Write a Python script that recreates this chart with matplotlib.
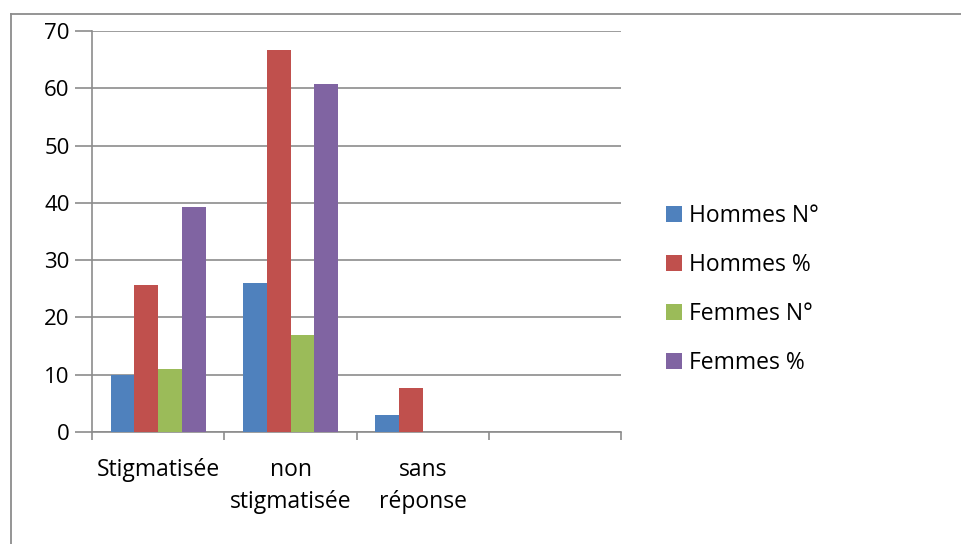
import matplotlib.pyplot as plt
import numpy as np
from matplotlib.lines import Line2D

categories = ['Stigmatisée', 'non\nstigmatisée', 'sans\nréponse', '']
series_names = ['Hommes N°', 'Hommes %', 'Femmes N°', 'Femmes %']
hommes_n = [10, 26, 3, 0]
hommes_pct = [25.6, 66.7, 7.7, 0]
femmes_n = [11, 17, 0, 0]
femmes_pct = [39.3, 60.7, 0, 0]
colors = ['#4F81BD', '#C0504D', '#9BBB59', '#8064A2']

plt.rcParams['font.family'] = ['Open Sans', 'DejaVu Sans']

fig = plt.figure(figsize=(9.61, 5.44), dpi=100)
# outer chart border (only left and top edges are inside the image)
fig.add_artist(Line2D([0.011, 0.011], [0.0, 0.974], transform=fig.transFigure,
                      color='#8c8c8c', linewidth=1.3))
fig.add_artist(Line2D([0.011, 1.0], [0.974, 0.974], transform=fig.transFigure,
                      color='#8c8c8c', linewidth=1.3))
ax = fig.add_axes([0.0957, 0.206, 0.551, 0.737])

x = np.arange(len(categories))
width = 0.18
values = [hommes_n, hommes_pct, femmes_n, femmes_pct]
for i, (vals, name, c) in enumerate(zip(values, series_names, colors)):
    ax.bar(x + (i - 1.5) * width, vals, width, color=c, label=name, zorder=3)

ax.set_xlim(-0.5, len(categories) - 0.5)
ax.set_ylim(0, 70)
ax.set_yticks(range(0, 71, 10))
ax.yaxis.grid(True, color='#8c8c8c', linewidth=1.2, zorder=0)

ax.set_xticks(np.arange(-0.5, len(categories), 1))
ax.set_xticklabels([])
ax.set_xticks(x, minor=True)
ax.set_xticklabels(categories, minor=True, fontsize=16.5, linespacing=1.4)
ax.tick_params(axis='x', which='minor', length=0, pad=19)
ax.tick_params(axis='x', which='major', length=6, color='#8c8c8c', width=1.2)
ax.tick_params(axis='y', length=12, color='#8c8c8c', width=1.2, labelsize=16, pad=4)

for s in ['top', 'right']:
    ax.spines[s].set_visible(False)
for s in ['left', 'bottom']:
    ax.spines[s].set_color('#8c8c8c')
    ax.spines[s].set_linewidth(1.2)

ax.legend(loc='center left', bbox_to_anchor=(1.045, 0.355), frameon=False,
          fontsize=16.5, handlelength=0.7, handleheight=0.7, handletextpad=0.3,
          labelspacing=1.1)

plt.savefig('out.png', dpi=100)
